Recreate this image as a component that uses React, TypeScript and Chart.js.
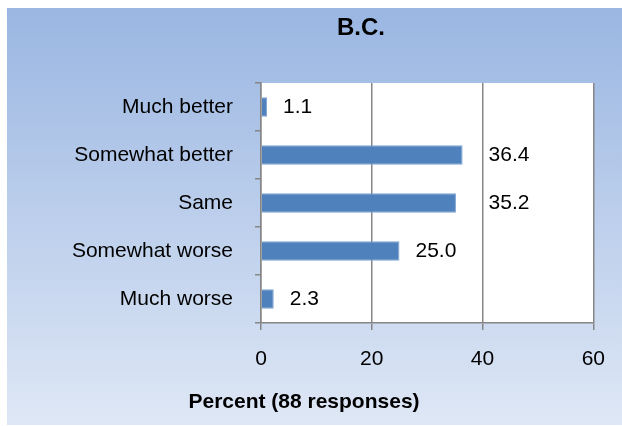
import React, { useEffect, useRef } from "react";
import { Chart, registerables } from "chart.js";

Chart.register(...registerables);

const categories = ["Much better", "Somewhat better", "Same", "Somewhat worse", "Much worse"];
const percentValues = [1.1, 36.4, 35.2, 25.0, 2.3];
const xTickValues = [0, 20, 40, 60];
const chartTitle = "B.C.";
const xAxisTitle = "Percent (88 responses)";

const FONT = "'Liberation Sans', Arial, Helvetica, sans-serif";
const AXIS_GRAY = "#868686";

const backgroundPlugin = {
  id: "bgPlugin",
  beforeDraw(chart: any) {
    const { ctx, width, height, chartArea } = chart;
    ctx.save();
    const g = ctx.createLinearGradient(0, 0, 0, height);
    g.addColorStop(0, "#9AB6E2");
    g.addColorStop(1, "#DEE7F5");
    ctx.fillStyle = g;
    ctx.fillRect(0, 0, width, height);
    ctx.fillStyle = "#FFFFFF";
    ctx.fillRect(chartArea.left, chartArea.top, chartArea.right - chartArea.left, chartArea.bottom - chartArea.top);
    ctx.restore();
  },
};

const valueLabelPlugin = {
  id: "valueLabelPlugin",
  afterDatasetsDraw(chart: any) {
    const { ctx } = chart;
    const meta = chart.getDatasetMeta(0);
    const xScale = chart.scales.x;
    const gridXs = xScale.ticks.map((t: any) => xScale.getPixelForValue(t.value));
    ctx.save();
    ctx.font = `21px ${FONT}`;
    ctx.fillStyle = "#000000";
    ctx.textAlign = "left";
    ctx.textBaseline = "middle";
    meta.data.forEach((bar: any, i: number) => {
      const text = percentValues[i].toFixed(1);
      const w = ctx.measureText(text).width;
      let x = bar.x + 16;
      for (const gx of gridXs) {
        if (gx > bar.x + 2 && gx > x - 3 && gx < x + w + 3) x = gx + 6;
      }
      ctx.fillText(text, x, bar.y);
    });
    ctx.restore();
  },
};

const titlesPlugin = {
  id: "titlesPlugin",
  afterDraw(chart: any) {
    const { ctx } = chart;
    ctx.save();
    ctx.fillStyle = "#000000";
    ctx.textAlign = "center";
    ctx.textBaseline = "middle";
    ctx.font = `bold 24px ${FONT}`;
    ctx.fillText(chartTitle, 354, 20);
    ctx.font = `bold 21px ${FONT}`;
    ctx.fillText(xAxisTitle, 297, 394);
    ctx.restore();
  },
};

export default function App() {
  const canvasRef = useRef<HTMLCanvasElement | null>(null);

  useEffect(() => {
    document.documentElement.style.overflow = "hidden";
    const canvas = canvasRef.current;
    if (!canvas) return;
    const chart = new Chart(canvas, {
      type: "bar",
      data: {
        labels: categories,
        datasets: [
          {
            data: percentValues,
            backgroundColor: "#4F81BD",
            borderColor: "#7FA3D2",
            borderWidth: 1,
            barPercentage: 0.41,
            categoryPercentage: 1,
          },
        ],
      },
      options: {
        indexAxis: "y",
        responsive: false,
        animation: false,
        events: [],
        layout: { padding: { top: 75, right: 25, bottom: 0, left: 0 } },
        plugins: {
          legend: { display: false },
          title: { display: false },
          tooltip: { enabled: false },
        },
        scales: {
          x: {
            type: "linear",
            min: 0,
            max: 60,
            afterBuildTicks: (axis: any) => {
              axis.ticks = xTickValues.map((v) => ({ value: v }));
            },
            ticks: {
              font: { family: FONT, size: 21 },
              color: "#000000",
              padding: 17,
            },
            grid: { color: AXIS_GRAY, lineWidth: 1.5, tickLength: 7, drawTicks: true },
            border: { color: AXIS_GRAY, width: 1.5 },
            afterFit: (axis: any) => {
              axis.height = 102;
            },
          },
          y: {
            type: "category",
            ticks: {
              font: { family: FONT, size: 21 },
              color: "#000000",
              padding: 22,
            },
            grid: { offset: true, drawOnChartArea: false, color: AXIS_GRAY, lineWidth: 1.5, tickLength: 6 },
            border: { color: AXIS_GRAY, width: 1.5 },
            afterFit: (axis: any) => {
              axis.width = 254;
            },
          },
        },
      },
      plugins: [backgroundPlugin, valueLabelPlugin, titlesPlugin],
    } as any);
    return () => chart.destroy();
  }, []);

  return (
    <div style={{ position: "fixed", left: 7, top: 8, width: 615, height: 417 }}>
      <canvas ref={canvasRef} width={615} height={417} style={{ display: "block" }} />
    </div>
  );
}
